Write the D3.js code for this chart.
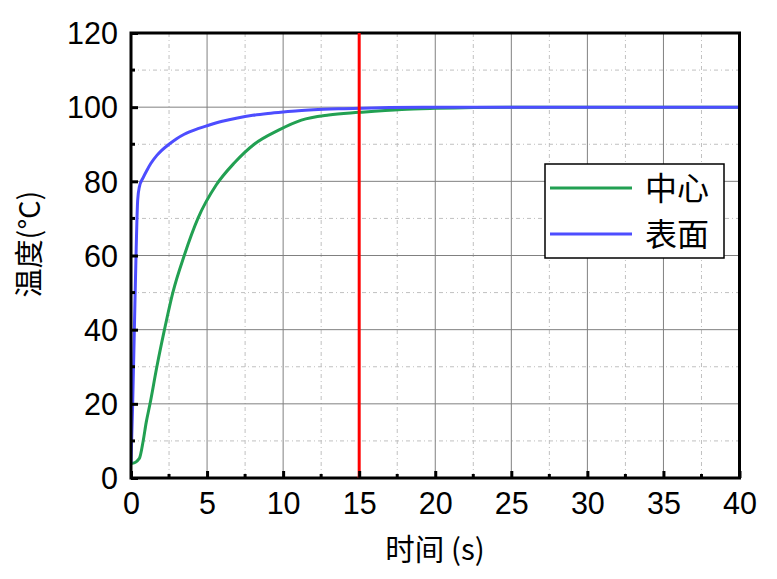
<!DOCTYPE html>
<html>
<head>
<meta charset="utf-8">
<script src="https://cdn.jsdelivr.net/npm/d3@7"></script>
<style>
  body { margin: 0; background: #fff; }
  svg { display: block; }
</style>
</head>
<body>
<svg id="chart" width="777" height="579"></svg>
<script>
// center (中心) temperature readings
const centerTime = [0, 0.1, 0.55, 0.8, 1.0, 1.25, 1.7, 2.2, 2.75, 3.5, 4.4, 5.6, 6.8, 8.1, 9.7, 11.2, 13, 15, 17.8, 20, 25, 40]
const centerTemp = [4, 4, 5.3, 10, 15, 20, 30, 40, 50, 60, 70, 79, 85, 90, 93.8, 96.5, 97.9, 98.6, 99.4, 99.7, 100, 100]
// surface (表面) temperature readings
const surfaceTime = [0, 0.11, 0.22, 0.33, 0.44, 0.55, 0.8, 1.05, 1.3, 1.7, 2, 2.5, 3, 3.5, 4.4, 5, 6, 7, 8, 9, 10, 11, 12, 14, 17, 20, 40]
const surfaceTemp = [4, 20, 40, 60, 75, 78.5, 81, 83, 84.8, 87, 88.3, 90, 91.5, 92.7, 94.2, 95, 96.2, 97.1, 97.8, 98.3, 98.7, 99.05, 99.3, 99.6, 99.9, 100, 100]
const markerTime = 15

const xTicks = [0, 5, 10, 15, 20, 25, 30, 35, 40]
const yTicks = [0, 20, 40, 60, 80, 100, 120]
const seriesNames = ['中心', '表面']
const seriesColors = ['#22a052', '#4d4dff']

;(function () {
  const left = 131
  const right = 739.5
  const top = 33
  const bottom = 478

  const svg = d3.select('#chart')
  const x = d3.scaleLinear().domain([0, 40]).range([left, right])
  const y = d3.scaleLinear().domain([0, 120]).range([bottom, top])

  const xMinor = d3.range(2.5, 40, 5)
  const yMinor = d3.range(10, 120, 20)

  // grid
  const grid = svg.append('g')
  grid.selectAll('.gxm').data(xMinor).enter().append('line')
    .attr('x1', d => x(d)).attr('x2', d => x(d))
    .attr('y1', top).attr('y2', bottom)
    .attr('stroke', '#c0c0c0').attr('stroke-width', 1).attr('stroke-dasharray', '4,3,1,3')
  grid.selectAll('.gym').data(yMinor).enter().append('line')
    .attr('x1', left).attr('x2', right)
    .attr('y1', d => y(d)).attr('y2', d => y(d))
    .attr('stroke', '#c0c0c0').attr('stroke-width', 1).attr('stroke-dasharray', '4,3,1,3')
  grid.selectAll('.gx').data(xTicks.slice(1, -1)).enter().append('line')
    .attr('x1', d => x(d)).attr('x2', d => x(d))
    .attr('y1', top).attr('y2', bottom)
    .attr('stroke', '#808080').attr('stroke-width', 1)
  grid.selectAll('.gy').data(yTicks.slice(1, -1)).enter().append('line')
    .attr('x1', left).attr('x2', right)
    .attr('y1', d => y(d)).attr('y2', d => y(d))
    .attr('stroke', '#808080').attr('stroke-width', 1)

  // curves
  svg.append('clipPath').attr('id', 'clip')
    .append('rect').attr('x', left).attr('y', top).attr('width', right - left).attr('height', bottom - top)

  const line = d3.line().x(d => x(d[0])).y(d => y(d[1])).curve(d3.curveMonotoneX)
  const curves = svg.append('g').attr('clip-path', 'url(#clip)')
  curves.append('path')
    .datum(d3.zip(centerTime, centerTemp))
    .attr('d', line)
    .attr('fill', 'none').attr('stroke', seriesColors[0]).attr('stroke-width', 3)
  curves.append('path')
    .datum(d3.zip(surfaceTime, surfaceTemp))
    .attr('d', line)
    .attr('fill', 'none').attr('stroke', seriesColors[1]).attr('stroke-width', 3)

  // frame
  svg.append('rect')
    .attr('x', left).attr('y', top).attr('width', right - left).attr('height', bottom - top)
    .attr('fill', 'none').attr('stroke', '#000').attr('stroke-width', 3)

  // red marker line
  svg.append('line')
    .attr('x1', x(markerTime)).attr('x2', x(markerTime))
    .attr('y1', top).attr('y2', bottom)
    .attr('stroke', '#ff0000').attr('stroke-width', 3)

  // axes with inward ticks
  const xAxis = svg.append('g').attr('transform', `translate(0,${bottom})`)
    .call(d3.axisBottom(x).tickValues(xTicks).tickSize(-7).tickPadding(12))
  const yAxis = svg.append('g').attr('transform', `translate(${left},0)`)
    .call(d3.axisLeft(y).tickValues(yTicks).tickSize(-7).tickPadding(13))
  ;[xAxis, yAxis].forEach(a => {
    a.select('.domain').remove()
    a.selectAll('.tick line').attr('stroke', '#000').attr('stroke-width', 3)
    a.selectAll('text').attr('font-family', 'Liberation Sans, Arial, sans-serif')
      .attr('font-size', 30.5).attr('fill', '#000')
  })
  xAxis.selectAll('text').attr('dy', '0.8em')
  yAxis.selectAll('.tick text').attr('dy', '0.35em')

  svg.append('g').selectAll('line').data(xMinor).enter().append('line')
    .attr('x1', d => x(d)).attr('x2', d => x(d))
    .attr('y1', bottom).attr('y2', bottom - 4)
    .attr('stroke', '#000').attr('stroke-width', 3)
  svg.append('g').selectAll('line').data(yMinor).enter().append('line')
    .attr('x1', left).attr('x2', left + 4)
    .attr('y1', d => y(d)).attr('y2', d => y(d))
    .attr('stroke', '#000').attr('stroke-width', 3)

  // axis titles
  svg.append('text')
    .attr('x', 435).attr('y', 560)
    .attr('text-anchor', 'middle')
    .attr('font-family', 'Noto Sans CJK SC, sans-serif').attr('font-size', 29.5)
    .text('时间 (s)')
  svg.append('text')
    .attr('transform', 'translate(40,244) rotate(-90)')
    .attr('text-anchor', 'middle')
    .attr('font-family', 'Noto Sans CJK SC, sans-serif').attr('font-size', 29)
    .text('温度(°C)')

  // legend
  const legend = svg.append('g')
  legend.append('rect')
    .attr('x', 545).attr('y', 164).attr('width', 179).attr('height', 94)
    .attr('fill', '#fff').attr('stroke', '#000').attr('stroke-width', 1.5)
  const rows = legend.selectAll('.row').data(seriesNames).enter().append('g')
    .attr('transform', (d, i) => `translate(0,${188 + i * 46})`)
  rows.append('line')
    .attr('x1', 550).attr('x2', 632)
    .attr('stroke', (d, i) => seriesColors[i]).attr('stroke-width', 3)
  rows.append('text')
    .attr('x', 645).attr('y', 0).attr('dy', '0.36em')
    .attr('font-family', 'Noto Sans CJK SC, sans-serif').attr('font-size', 32)
    .text(d => d)
})()
</script>
</body>
</html>
